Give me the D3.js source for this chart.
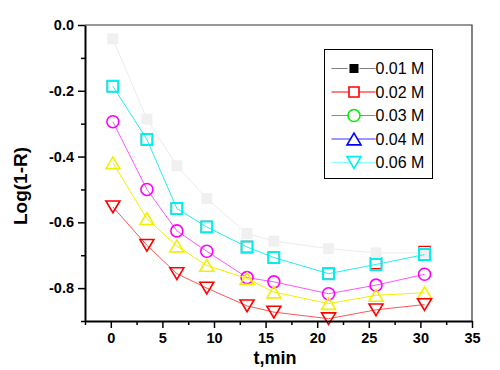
<!DOCTYPE html>
<html>
<head>
<meta charset="utf-8">
<script src="https://cdn.jsdelivr.net/npm/d3@7"></script>
<style>
  body { margin: 0; background: #fff; }
  text { font-family: Arial, "Liberation Sans", sans-serif; }
</style>
</head>
<body>
<div id="chart"></div>
<script>
// sampling times (min)
var times = [0.2, 3.5, 6.4, 9.3, 13.2, 15.8, 21.1, 25.7, 30.4];

// Log(1-R) values per plotted series
var greySq  = [-0.042, -0.286, -0.428, -0.528, -0.634, -0.657, -0.680, -0.693, -0.693];
var redSq   = [-0.186, -0.348, -0.558, -0.614, -0.675, -0.707, -0.756, -0.724, -0.690];
var cyanSq  = [-0.186, -0.348, -0.558, -0.614, -0.675, -0.707, -0.756, -0.728, -0.698];
var magCirc = [-0.294, -0.500, -0.626, -0.688, -0.768, -0.781, -0.817, -0.791, -0.758];
var yelTri  = [-0.419, -0.589, -0.672, -0.731, -0.771, -0.812, -0.847, -0.822, -0.814];
var redTri  = [-0.553, -0.670, -0.756, -0.800, -0.854, -0.873, -0.893, -0.866, -0.850];

var legendLabels = ["0.01 M", "0.02 M", "0.03 M", "0.04 M", "0.06 M"];
var xTicks = [0, 5, 10, 15, 20, 25, 30, 35];
var yTicks = [0, -0.2, -0.4, -0.6, -0.8];

var W = 500, H = 370;
var margin = {top: 25, right: 28, bottom: 49, left: 85},
    width = W - margin.left - margin.right,
    height = H - margin.top - margin.bottom;

var svg = d3.select("#chart").append("svg")
    .attr("width", W)
    .attr("height", H);

var g = svg.append("g")
    .attr("transform", "translate(" + margin.left + "," + margin.top + ")");

var x = d3.scaleLinear().domain([-2.5, 35]).range([0, width]);
var y = d3.scaleLinear().domain([-0.9, 0]).range([height, 0]);

// marker shapes
function shape(kind, s) {
  var h = s / 2;
  if (kind === "square") return "M" + (-h) + "," + (-h) + "h" + s + "v" + s + "h" + (-s) + "Z";
  if (kind === "circle") return d3.symbol(d3.symbolCircle, Math.PI * h * h)();
  if (kind === "up") return "M0," + (-h * 0.9) + "L" + (h + 0.5) + "," + (h * 0.9) + "L" + (-h - 0.5) + "," + (h * 0.9) + "Z";
  if (kind === "down") return "M0," + (h * 0.9) + "L" + (h + 0.5) + "," + (-h * 0.9) + "L" + (-h - 0.5) + "," + (-h * 0.9) + "Z";
}

// red squares sit almost exactly under the cyan ones, so their line is hidden
var series = [
  {vals: redSq,   kind: "square", size: 11, stroke: "#ff0000", fill: "none",    line: null,      sw: 1.3},
  {vals: greySq,  kind: "square", size: 11, stroke: "none",    fill: "#f0f0f0", line: "#ececec", sw: 0},
  {vals: cyanSq,  kind: "square", size: 11, stroke: "#00f0f0", fill: "none",    line: "#22eeee", sw: 2},
  {vals: magCirc, kind: "circle", size: 12, stroke: "#ff00ff", fill: "none",    line: "#ff55ff", sw: 1.6},
  {vals: yelTri,  kind: "up",     size: 13, stroke: "#f0f000", fill: "none",    line: "#f0f000", sw: 1.6},
  {vals: redTri,  kind: "down",   size: 13, stroke: "#ff0000", fill: "none",    line: "#ff5555", sw: 1.6}
];

var line = d3.line()
    .x(function(d) { return x(d.t); })
    .y(function(d) { return y(d.v); });

series.forEach(function(s) {
  var pts = times.map(function(t, i) { return {t: t, v: s.vals[i]}; });
  var grp = g.append("g");
  if (s.line) {
    grp.append("path")
        .datum(pts)
        .attr("d", line)
        .attr("fill", "none")
        .attr("stroke", s.line)
        .attr("stroke-width", 1);
  }
  grp.selectAll("path.mk")
      .data(pts)
      .enter().append("path")
      .attr("class", "mk")
      .attr("transform", function(d) { return "translate(" + x(d.t) + "," + y(d.v) + ")"; })
      .attr("d", shape(s.kind, s.size))
      .attr("fill", s.fill)
      .attr("stroke", s.stroke)
      .attr("stroke-width", s.sw);
});

var fmt = function(d) { return d3.format(".1f")(d).replace("\u2212", "-"); };

// minor ticks
g.append("g")
    .attr("transform", "translate(0," + height + ")")
    .call(d3.axisBottom(x).tickValues(d3.range(-2.5, 35, 5)).tickSize(4).tickFormat(""))
    .call(function(a) { a.select(".domain").remove(); a.selectAll("line").attr("stroke-width", 1.5); });
g.append("g")
    .call(d3.axisLeft(y).tickValues([-0.1, -0.3, -0.5, -0.7, -0.9]).tickSize(4).tickFormat(""))
    .call(function(a) { a.select(".domain").remove(); a.selectAll("line").attr("stroke-width", 1.5); });

// major ticks + labels
var xAxis = g.append("g")
    .attr("transform", "translate(0," + height + ")")
    .call(d3.axisBottom(x).tickValues(xTicks).tickSize(7).tickSizeOuter(0).tickPadding(5).tickFormat(d3.format("d")));
var yAxis = g.append("g")
    .call(d3.axisLeft(y).tickValues(yTicks).tickSize(7).tickSizeOuter(0).tickPadding(4).tickFormat(fmt));

[xAxis, yAxis].forEach(function(a) {
  a.select(".domain").attr("stroke-width", 2);
  a.selectAll("line").attr("stroke-width", 1.5);
  a.selectAll("text")
      .attr("fill", "#000")
      .style("font-size", "14.5px")
      .style("font-weight", "bold");
});

// top and right frame
g.append("path")
    .attr("d", "M0,0H" + width + "V" + height)
    .attr("fill", "none")
    .attr("stroke", "#333")
    .attr("stroke-width", 1.2);

// axis titles
svg.append("text")
    .attr("x", 275)
    .attr("y", 364)
    .attr("text-anchor", "middle")
    .style("font-size", "18px")
    .style("font-weight", "bold")
    .text("t,min");

svg.append("text")
    .attr("transform", "translate(27,186) rotate(-90)")
    .attr("text-anchor", "middle")
    .style("font-size", "19px")
    .style("font-weight", "bold")
    .text("Log(1-R)");

// legend
var legendItems = [
  {kind: "square", size: 9,  stroke: "none",    fill: "#000",   line: "#808080"},
  {kind: "square", size: 10, stroke: "#ff0000", fill: "#fff",   line: "#ff0000"},
  {kind: "circle", size: 12, stroke: "#00ee00", fill: "#fff",   line: "#00ee00"},
  {kind: "up",     size: 13, stroke: "#0000ff", fill: "#fff",   line: "#3333ff"},
  {kind: "down",   size: 13, stroke: "#00eeee", fill: "#fff",   line: "#88ffff"}
];

var lg = svg.append("g").attr("transform", "translate(324.5,49.5)");
lg.append("rect")
    .attr("width", 108)
    .attr("height", 129)
    .attr("fill", "#fff")
    .attr("stroke", "#000")
    .attr("stroke-width", 1);

var rows = lg.selectAll("g.row")
    .data(legendLabels)
    .enter().append("g")
    .attr("class", "row")
    .attr("transform", function(d, i) { return "translate(0," + (19 + i * 23.5) + ")"; });

rows.append("line")
    .attr("x1", 7).attr("x2", 51)
    .attr("stroke", function(d, i) { return legendItems[i].line; })
    .attr("stroke-width", 1);

rows.filter(function(d, i) { return i === 0; }).append("rect")
    .attr("x", 23).attr("y", -4).attr("width", 12).attr("height", 8)
    .attr("fill", "#fff");

rows.append("path")
    .attr("transform", "translate(29.5,0)")
    .attr("d", function(d, i) { return shape(legendItems[i].kind, legendItems[i].size); })
    .attr("fill", function(d, i) { return legendItems[i].fill; })
    .attr("stroke", function(d, i) { return legendItems[i].stroke; })
    .attr("stroke-width", 1.6);

rows.append("text")
    .attr("x", 51)
    .attr("y", 5.5)
    .style("font-size", "16px")
    .text(function(d) { return d; });
</script>
</body>
</html>
